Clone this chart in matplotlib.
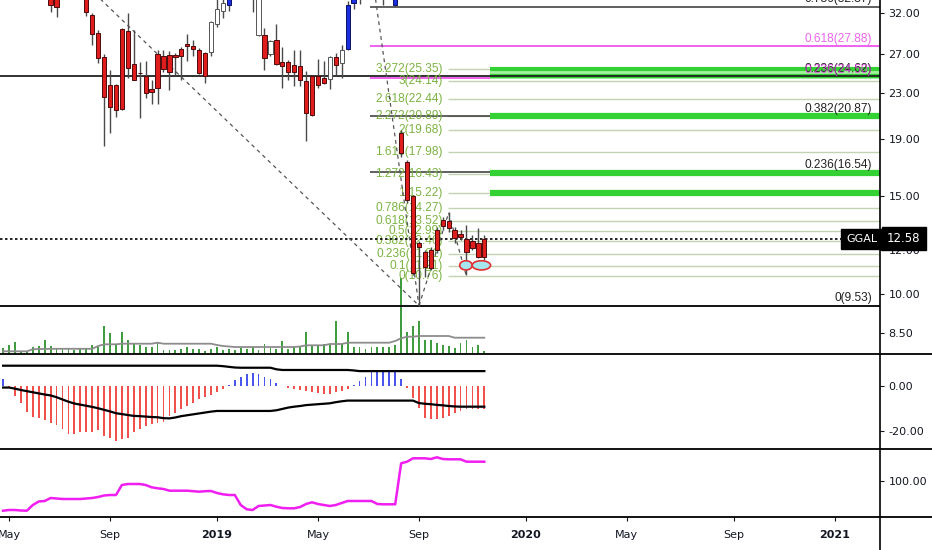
import matplotlib
matplotlib.use('Agg')
import matplotlib.pyplot as plt
from matplotlib.lines import Line2D
from matplotlib.patches import Ellipse
from matplotlib.ticker import FixedLocator, NullLocator
import numpy as np
import pandas as pd

plt.rcParams['font.family'] = ['DejaVu Sans']
plt.rcParams['axes.unicode_minus'] = False

# weekly bars, first one is the week of 30 Apr 2018
first_bar = '2018-04-30'
ticker = 'GGAL'
last_price = 12.58

opens = [44.0, 43.0, 41.0, 39.0, 40.0, 37.0, 36.5, 35.5, 35.0, 34.0,
         34.5, 36.5, 37.5, 36.0, 35.5, 31.74, 29.46, 26.67, 23.75, 23.75,
         21.50, 29.70, 25.91, 25.00, 24.65, 23.36, 23.46, 26.78, 26.89, 26.89,
         27.57, 28.10, 27.91, 27.45, 27.12, 27.23, 30.58, 32.27, 33.08, 35.0,
         37.5, 39.0, 38.0, 35.5, 29.21, 27.00, 28.62, 26.12, 26.12, 25.80,
         25.70, 24.15, 20.98, 24.65, 24.45, 24.35, 26.67, 26.02, 27.57, 33.35,
         35.5, 36.0, 35.0, 36.0, 35.0, 34.5, 33.08, 19.47, 17.27, 15.00,
         12.14, 11.90, 11.13, 11.99, 13.25, 13.52, 13.03, 12.82, 12.55, 12.09,
         12.35, 11.65]
highs = [46.0, 45.0, 43.0, 42.0, 41.5, 38.5, 38.0, 37.0, 35.8, 34.8,
         37.0, 38.5, 38.0, 36.8, 36.0, 32.0, 29.83, 27.00, 25.27, 23.85,
         30.07, 32.00, 29.83, 26.12, 26.23, 24.25, 27.45, 27.45, 27.34, 27.12,
         27.80, 29.34, 28.62, 27.68, 27.23, 31.0, 34.0, 34.2, 35.5, 38.0,
         40.0, 41.0, 39.0, 36.0, 30.07, 28.62, 30.58, 27.80, 26.34, 27.45,
         27.45, 25.17, 24.80, 26.45, 26.23, 26.78, 27.12, 28.03, 33.60, 36.0,
         37.0, 37.5, 38.2, 37.0, 36.0, 35.5, 35.0, 19.70, 17.41, 15.06,
         12.45, 11.99, 12.14, 13.19, 13.75, 14.04, 13.19, 13.03, 13.30, 12.76,
         13.14, 12.76]
lows = [42.0, 40.5, 38.5, 37.5, 36.0, 35.0, 34.8, 34.2, 32.13, 31.47,
        34.0, 35.5, 35.2, 34.2, 31.60, 28.03, 26.02, 18.45, 19.47, 20.80,
        21.40, 24.45, 24.20, 20.72, 22.51, 21.95, 21.95, 25.06, 23.26, 24.76,
        24.25, 26.23, 26.78, 24.90, 23.95, 26.78, 30.20, 31.34, 32.27, 34.5,
        36.5, 37.0, 32.13, 29.10, 25.27, 26.78, 25.80, 23.46, 24.20, 23.65,
        23.65, 18.84, 20.89, 23.46, 23.85, 23.36, 24.76, 24.45, 27.40, 32.53,
        33.20, 34.5, 34.0, 34.5, 33.08, 34.0, 33.0, 17.63, 14.57, 10.81,
        9.53, 10.73, 11.04, 11.85, 13.03, 12.92, 12.35, 12.50, 10.81, 11.99,
        11.60, 11.51]
closes = [43.0, 41.0, 39.0, 40.0, 37.0, 36.5, 35.5, 35.0, 33.08, 32.80,
          36.5, 37.5, 36.0, 35.0, 32.13, 29.34, 26.56, 22.60, 21.68, 21.42,
          29.95, 25.48, 24.25, 24.92, 22.98, 23.07, 27.00, 25.38, 25.06, 26.67,
          26.78, 27.95, 27.57, 24.96, 24.65, 30.83, 32.53, 33.35, 35.0, 37.5,
          39.0, 38.0, 35.5, 29.21, 26.56, 28.50, 25.91, 25.70, 25.06, 25.06,
          24.25, 21.15, 24.65, 23.75, 23.95, 26.67, 25.80, 27.45, 33.08, 35.5,
          36.0, 35.0, 36.0, 35.0, 34.5, 35.0, 34.5, 17.92, 14.75, 10.90,
          12.35, 11.18, 11.99, 13.03, 13.58, 13.14, 12.60, 12.66, 11.90, 12.45,
          11.65, 12.58]
# r = red, w = white, b = blue (chart's own bar colouring)
candle_colors = ('rrrrrrrrrr' 'rrrrrrrrrr' 'rrrrrrrrrr' 'rrrrrwwwbb' 'bbwwrwrrrr'
                 'rrrrrwrwbb' 'bbbbbbbrrr' 'rrrrrrrrrr' 'rr')

volume = [5.7, 9.3, 12.0, 3.3, 3.3, 7.3, 8.3, 14.3, 8.3, 5.0,
          5.0, 5.0, 4.0, 5.0, 5.7, 9.3, 6.7, 27.7, 20.7, 10.0,
          21.7, 14.3, 10.7, 9.3, 6.7, 7.3, 11.7, 4.0, 4.0, 4.0,
          5.0, 6.7, 5.0, 5.0, 2.7, 5.0, 7.3, 4.0, 5.0, 4.0,
          6.0, 5.0, 7.0, 4.0, 10.0, 6.0, 5.0, 13.0, 5.0, 7.0,
          7.0, 22.0, 8.0, 8.0, 10.0, 9.0, 33.0, 10.0, 22.0, 7.0,
          7.0, 5.0, 7.0, 7.0, 7.0, 7.0, 9.0, 76.0, 22.0, 28.0,
          33.0, 14.0, 14.0, 11.0, 9.0, 8.0, 6.0, 11.0, 14.0, 7.0,
          9.0, 3.0]
volume_ma = [2.7, 2.7, 2.7, 2.7, 2.7, 4.7, 5.0, 5.0, 5.2, 5.2,
             5.2, 5.2, 5.2, 5.2, 5.2, 5.2, 8.0, 9.7, 9.7, 9.7,
             10.3, 10.3, 10.3, 10.3, 10.3, 10.3, 11.3, 10.3, 10.3, 10.3,
             10.3, 10.3, 10.3, 10.3, 10.3, 10.3, 9.0, 8.0, 7.5, 7.0,
             7.0, 7.0, 7.0, 7.0, 7.0, 7.0, 7.0, 7.0, 7.0, 7.0,
             7.5, 8.7, 8.7, 8.7, 8.7, 10.0, 10.0, 10.0, 11.3, 11.3,
             11.3, 11.3, 11.3, 11.3, 11.3, 11.3, 13.0, 15.7, 17.3, 17.3,
             18.0, 18.0, 18.0, 18.0, 18.0, 18.0, 16.3, 16.3, 16.3, 16.3,
             16.3, 16.3]

macd_hist = [3.3, -0.5, -4.4, -7.7, -11.6, -13.6, -14.4, -15.1, -16.3, -17.5,
             -19.3, -21.2, -21.2, -20.4, -20.3, -20.3, -19.6, -22.2, -23.3, -24.4,
             -23.7, -23.0, -20.4, -19.0, -17.8, -17.0, -16.6, -15.9, -13.3, -11.9,
             -10.4, -8.9, -7.4, -5.9, -4.7, -3.9, -2.7, -1.5, 0.4, 2.7,
             4.0, 5.2, 5.9, 5.2, 4.1, 3.0, 1.2, 0.0, -0.9, -1.2,
             -1.8, -2.4, -2.7, -3.3, -3.7, -3.4, -2.7, -2.4, -1.2, 0.4,
             2.2, 4.1, 6.2, 6.7, 6.7, 6.7, 6.7, 3.0, -0.7, -5.2,
             -9.6, -14.1, -14.8, -14.5, -14.1, -13.3, -12.1, -11.1, -10.4, -10.1,
             -10.1, -10.1]
macd_upper = [9.0, 9.0, 9.0, 9.0, 9.0, 9.0, 9.0, 9.0, 9.0, 9.0,
              9.0, 9.0, 9.0, 9.0, 9.0, 9.0, 9.0, 9.0, 9.0, 9.0,
              9.0, 9.0, 9.0, 9.0, 9.0, 9.0, 9.0, 9.0, 9.0, 9.0,
              9.0, 9.0, 9.0, 9.0, 9.0, 9.0, 9.0, 8.8, 8.5, 8.2,
              8.1, 8.1, 8.1, 8.1, 8.1, 8.1, 7.4, 7.1, 7.1, 7.1,
              7.1, 7.1, 7.1, 7.1, 7.1, 7.1, 7.1, 7.1, 7.1, 6.9,
              6.6, 6.6, 6.6, 6.6, 6.6, 6.6, 6.6, 6.6, 6.6, 6.6,
              6.6, 6.6, 6.6, 6.6, 6.6, 6.6, 6.6, 6.6, 6.6, 6.6,
              6.6, 6.6]
macd_lower = [-0.7, -0.7, -1.2, -1.8, -2.3, -2.8, -3.3, -3.8, -4.2, -5.0,
              -6.0, -7.0, -7.8, -8.3, -8.8, -9.3, -9.9, -10.6, -11.3, -12.1,
              -12.5, -12.9, -13.3, -13.4, -13.6, -13.8, -13.9, -14.3, -14.4, -14.0,
              -13.4, -13.0, -12.6, -12.2, -11.8, -11.4, -11.1, -11.1, -11.1, -11.1,
              -11.1, -11.1, -11.1, -11.1, -11.1, -11.1, -10.8, -10.2, -9.6, -9.2,
              -8.9, -8.5, -8.3, -8.1, -7.9, -7.7, -7.2, -6.8, -6.5, -6.5,
              -6.5, -6.5, -6.5, -6.5, -6.5, -6.5, -6.5, -6.5, -6.5, -6.5,
              -7.6, -7.9, -8.1, -8.4, -8.6, -8.9, -9.1, -9.2, -9.2, -9.2,
              -9.2, -9.2]
osc = [70.3, 71.0, 71.0, 70.5, 70.3, 76.0, 79.5, 80.0, 83.0, 82.5,
       82.0, 82.0, 82.0, 82.0, 82.5, 83.0, 84.0, 85.5, 86.0, 86.0,
       96.0, 97.0, 97.0, 97.0, 96.0, 93.7, 92.7, 92.0, 90.3, 90.3,
       90.3, 90.3, 89.8, 89.3, 89.8, 90.0, 88.0, 86.7, 86.0, 86.0,
       76.0, 71.7, 71.0, 75.0, 75.5, 76.0, 74.3, 73.0, 72.7, 72.7,
       74.0, 77.0, 78.7, 77.0, 76.0, 75.0, 76.0, 78.0, 80.0, 80.0,
       80.0, 80.0, 80.0, 77.0, 76.7, 76.7, 76.7, 117.7, 119.3, 122.7,
       122.7, 122.7, 122.0, 123.7, 122.0, 121.7, 121.7, 121.7, 119.3, 119.3,
       119.3, 119.3]

# trend based fib extension (green labels)
fib_ext_ratios = ['0', '0.1', '0.236', '0.382', '0.5', '0.618', '0.786', '1',
                  '1.272', '1.618', '2', '2.272', '2.618', '3', '3.272']
fib_ext_prices = [10.76, 11.21, 11.81, 12.46, 12.99, 13.52, 14.27, 15.22,
                  16.43, 17.98, 19.68, 20.89, 22.44, 24.14, 25.35]
# retracement levels labelled on the right
ret_black_ratios = ['0.786', '0.236', '0.382', '0.236', '0']
ret_black_prices = [32.87, 24.62, 20.87, 16.54, 9.53]
ret_pink_ratios = ['0.618', '0.236']
ret_pink_prices = [27.88, 24.50]
green_zones = [25.35, 24.62, 20.89, 16.50, 15.22]

# dashed drawing lines: (bar, price) start and end
trend_bars = [(11, 70), (62, 70), (70, 75), (75, 78)]
trend_prices = [(38.5, 9.53), (38.2, 9.53), (9.53, 13.99), (13.99, 10.76)]
# marked lows
mark_bars = [77.9, 80.5]
mark_price = 11.26

price_ticks = [8.5, 10, 12, 15, 19, 23, 27, 32]

label_font = ['Liberation Sans', 'DejaVu Sans']

n = len(closes)
idx = np.arange(n)
o = np.array(opens)
c = np.array(closes)

W, H = 932, 550
fig = plt.figure(figsize=(W / 100, H / 100), dpi=100)
right = 880 / W
ax1 = fig.add_axes([0, 1 - 354 / H, right, 354 / H])
ax2 = fig.add_axes([0, 1 - 449 / H, right, 95 / H], sharex=ax1)
ax3 = fig.add_axes([0, 1 - 517 / H, right, 68 / H], sharex=ax1)
xmax = 147.6
ax1.set_xlim(-0.52, xmax)

# volume under the price
axv = ax1.twinx()
axv.bar(idx, volume, width=0.3, color='#3f9c3f')
axv.plot(idx, volume_ma, color='#8c8c8c', lw=1.3)
axv.set_ylim(0, 354)
axv.axis('off')
ax1.set_zorder(axv.get_zorder() + 1)
ax1.patch.set_visible(False)

ax1.set_yscale('log')
ax1.set_ylim(7.80, 33.77)

# fib extension
ax1.hlines(fib_ext_prices, 74.9, xmax, color='#c3d3b1', lw=1, zorder=2)
for r, p in zip(fib_ext_ratios, fib_ext_prices):
    ax1.text(74.0, p, f'{r}({p:.2f})', ha='right', va='center', color='#7cb342',
             fontsize=8.6, family=label_font, zorder=3)

# green zones
ax1.fill_between([82, xmax], 24.3, 25.45, color='#a3ef9f', lw=0, zorder=2.5)
ax1.hlines(green_zones[:2], 82, xmax, color='#33d133', lw=3, zorder=2.6)
ax1.hlines(green_zones[2:], 82, xmax, color='#33d133', lw=4.5, zorder=2.6)

# retracement lines
ax1.axhline(9.53, color='#111111', lw=1.4, zorder=2.8)
ax1.axhline(24.62, color='#222222', lw=1.3, zorder=2.8)
ax1.hlines([32.87, 20.87, 16.54], 61.8, xmax, color='#444444', lw=1.2, zorder=2)
ax1.hlines(ret_pink_prices, 61.8, xmax, color='#ee55ee', lw=1.3, zorder=2.2)
for r, p in zip(ret_black_ratios, ret_black_prices):
    ax1.annotate(f'{r}({p:.2f})', xy=(0.991, p), xycoords=('axes fraction', 'data'),
                 xytext=(0, 1), textcoords='offset points', ha='right', va='bottom',
                 color='#222222', fontsize=8.6, family=label_font, clip_on=True, zorder=3)
for r, p in zip(ret_pink_ratios, ret_pink_prices):
    ax1.annotate(f'{r}({p:.2f})', xy=(0.991, p), xycoords=('axes fraction', 'data'),
                 xytext=(0, 1), textcoords='offset points', ha='right', va='bottom',
                 color='#e83ee8', fontsize=8.6, family=label_font, alpha=0.8, zorder=3)

# last price dotted line
ax1.axhline(last_price, color='black', lw=1.2, ls=(0, (1.5, 1.5)), zorder=3)

for bx, py in zip(trend_bars, trend_prices):
    ax1.plot(bx, py, color='#555555', lw=0.9, ls=(0, (3, 3)), zorder=3)

# candles
face = {'r': '#e01d1d', 'w': 'white', 'b': '#1c2fe0'}
edge = {'r': '#4d0a0a', 'w': '#555555', 'b': '#0a0f60'}
ax1.vlines(idx, lows, highs, color='#4a4a4a', lw=1, zorder=4)
ax1.bar(idx, np.abs(c - o), bottom=np.minimum(o, c), width=0.72,
        color=[face[k] for k in candle_colors], edgecolor=[edge[k] for k in candle_colors],
        linewidth=0.7, zorder=5)

for mx, w in zip(mark_bars, [2.1, 3.1]):
    ax1.add_patch(Ellipse((mx, mark_price), w, 0.43, facecolor='#a6e6ef',
                          edgecolor='#e03030', lw=1.2, zorder=6))

# tags
ax1.annotate(ticker, xy=(0.997, last_price), xycoords=('axes fraction', 'data'),
             ha='right', va='center', color='white', fontsize=8,
             bbox=dict(boxstyle='square,pad=0.45', fc='black', ec='black'), zorder=7)
ax1.annotate(f'{last_price:.2f}', xy=(1.0, last_price), xycoords=('axes fraction', 'data'),
             xytext=(5, 0), textcoords='offset points', ha='left', va='center',
             color='white', fontsize=8.5, annotation_clip=False,
             bbox=dict(boxstyle='square,pad=0.45', fc='black', ec='black'), zorder=7)

ax1.yaxis.tick_right()
ax1.yaxis.set_major_locator(FixedLocator(price_ticks))
ax1.yaxis.set_minor_locator(NullLocator())
ax1.set_yticklabels([f'{t:.2f}' for t in price_ticks])

# MACD panel
ax2.bar(idx, macd_hist, width=0.3,
        color=['#4a55ee' if v > 0 else '#f2504a' for v in macd_hist])
ax2.plot(idx, macd_upper, color='black', lw=1.6)
ax2.plot(idx, macd_lower, color='black', lw=1.6)
ax2.set_ylim(-28.0, 14.2)
ax2.yaxis.tick_right()
ax2.set_yticks([0, -20])
ax2.set_yticklabels(['0.00', '-20.00'])

# lower panel
ax3.plot(idx, osc, color='#f01ef0', lw=1.8)
ax3.set_ylim(64, 132)
ax3.yaxis.tick_right()
ax3.set_yticks([100])
ax3.set_yticklabels(['100.00'])

# month labels on the first bar of Jan / May / Sep
dates = pd.date_range(first_bar, periods=148, freq='W-MON')
tick_pos, tick_lab = [], []
for i in range(1, len(dates)):
    if dates[i].month != dates[i - 1].month and dates[i].month in (1, 5, 9):
        tick_pos.append(i)
        tick_lab.append(str(dates[i].year) if dates[i].month == 1 else dates[i].strftime('%b'))
ax3.set_xticks(tick_pos)
ax3.set_xticklabels(tick_lab)
for t in ax3.get_xticklabels():
    if t.get_text().isdigit():
        t.set_fontweight('bold')

for ax in (ax1, ax2, ax3):
    for s in ax.spines.values():
        s.set_visible(False)
    ax.tick_params(axis='y', direction='out', length=3, pad=3, labelsize=8,
                   colors='#131722', right=True, left=False)
    ax.tick_params(axis='x', direction='out', length=3, labelsize=8, colors='#131722')
for ax in (ax1, ax2):
    ax.tick_params(axis='x', bottom=False, labelbottom=False)
ax3.tick_params(axis='x', pad=6)
ax1.set_xlim(-0.52, xmax)

# panel separators and price scale border
for ax in (ax1, ax2, ax3):
    y0 = ax.get_position().y0
    fig.add_artist(Line2D([0, 1], [y0, y0], transform=fig.transFigure, color='black', lw=1.3))
fig.add_artist(Line2D([right, right], [0, 1], transform=fig.transFigure, color='black', lw=1.2))

fig.savefig('out.png', dpi=100)
